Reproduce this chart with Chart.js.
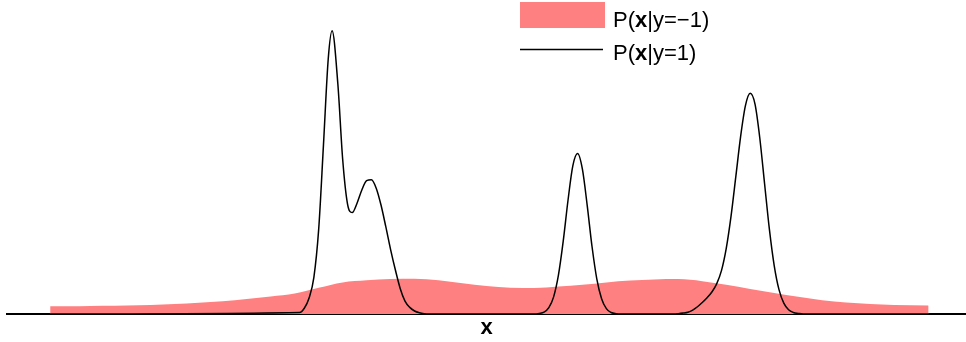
<!DOCTYPE html>
<html>
<head>
<meta charset="utf-8">
<script src="https://cdn.jsdelivr.net/npm/chart.js@4.4.1/dist/chart.umd.min.js"></script>
<style>
  html, body { margin: 0; padding: 0; background: #fff; }
  #wrap { width: 966px; height: 342px; }
</style>
</head>
<body>
<div id="wrap"><canvas id="densityChart" width="966" height="342"></canvas></div>
<script>
// Datos (eje x de -5 a 5, densidad de 0 a 1)
const negX = [-4.55, -4.25, -4.0, -3.75, -3.5, -3.25, -3.0, -2.75, -2.5, -2.25, -2.0, -1.75, -1.5, -1.25, -1.0, -0.75, -0.5, -0.25,
  0, 0.25, 0.5, 0.75, 1.0, 1.25, 1.5, 1.75, 2.0, 2.25, 2.5, 2.75, 3.0, 3.25, 3.5, 3.75, 4.0, 4.25, 4.61];
const negY = [0.026, 0.026, 0.027, 0.028, 0.030, 0.033, 0.037, 0.042, 0.050, 0.058, 0.068, 0.087, 0.105, 0.112, 0.116, 0.117, 0.112, 0.102,
  0.093, 0.087, 0.086, 0.091, 0.097, 0.105, 0.111, 0.115, 0.116, 0.109, 0.097, 0.083, 0.070, 0.057, 0.046, 0.038, 0.033, 0.030, 0.028];

const posX = [-4.55, -1.95, -1.90, -1.85, -1.80, -1.75, -1.70, -1.65, -1.61, -1.55, -1.50, -1.45, -1.40, -1.35, -1.30, -1.25, -1.20,
  -1.15, -1.10, -1.05, -1.00, -0.95, -0.90, -0.85, -0.80, -0.75, -0.70, -0.65, -0.60,
  0.50, 0.55, 0.60, 0.65, 0.70, 0.75, 0.80, 0.85, 0.90, 0.95, 1.00, 1.05, 1.10, 1.15, 1.20, 1.25, 1.30, 1.35, 1.40,
  1.95, 2.00, 2.05, 2.10, 2.15, 2.20, 2.25, 2.30, 2.35, 2.40, 2.45, 2.50, 2.55, 2.60, 2.65, 2.70, 2.75, 2.80, 2.85,
  2.90, 2.95, 3.00, 3.05, 3.10, 3.15, 3.20, 3.25, 3.30, 4.61];
const posY = [0, 0.005, 0.019, 0.053, 0.122, 0.281, 0.562, 0.849, 0.941, 0.764, 0.515, 0.367, 0.337, 0.368, 0.412, 0.443, 0.446,
  0.418, 0.362, 0.290, 0.214, 0.146, 0.085, 0.043, 0.022, 0.010, 0.004, 0.001, 0,
  0, 0.002, 0.006, 0.021, 0.057, 0.129, 0.242, 0.378, 0.492, 0.533, 0.481, 0.361, 0.225, 0.117, 0.051, 0.018, 0.005, 0.001, 0,
  0, 0.001, 0.003, 0.006, 0.013, 0.024, 0.038, 0.054, 0.073, 0.100, 0.144, 0.218, 0.325, 0.457, 0.590, 0.692, 0.733, 0.697, 0.584,
  0.432, 0.281, 0.161, 0.081, 0.036, 0.014, 0.005, 0.002, 0, 0];

const labels = ['P(x|y=−1)', 'P(x|y=1)'];
const axisTitle = 'x';

const FONT = "'Liberation Sans', Arial, Helvetica, sans-serif";
const RED = '#ff8080';

const toPoints = (xs, ys) => xs.map((x, i) => ({ x: x, y: ys[i] }));

// Dibuja la etiqueta con la "x" en negrita
function drawLabel(ctx, text, x, y) {
    const i = text.indexOf('x');
    const parts = [[text.slice(0, i), 'normal'], ['x', 'bold'], [text.slice(i + 1), 'normal']];
    ctx.textBaseline = 'alphabetic';
    ctx.textAlign = 'left';
    ctx.fillStyle = '#000';
    parts.forEach(([t, w]) => {
        ctx.font = w + ' 22px ' + FONT;
        ctx.fillText(t, x, y);
        x += ctx.measureText(t).width;
    });
}

const legendPlugin = {
    id: 'densityLegend',
    afterDraw(chart) {
        const ctx = chart.ctx;
        ctx.save();
        ctx.fillStyle = RED;
        ctx.fillRect(520, 2, 85, 26);
        ctx.strokeStyle = '#000';
        ctx.lineWidth = 1.5;
        ctx.beginPath();
        ctx.moveTo(520, 49.5);
        ctx.lineTo(603, 49.5);
        ctx.stroke();
        drawLabel(ctx, chart.data.datasets[1].label, 613, 27);
        drawLabel(ctx, chart.data.datasets[0].label, 613, 60);
        ctx.restore();
    }
};

const densityChart = new Chart(document.getElementById('densityChart'), {
    type: 'line',
    data: {
        datasets: [{
            label: labels[1],
            data: toPoints(posX, posY),
            borderColor: '#000',
            borderWidth: 1.5,
            pointRadius: 0,
            fill: false,
            cubicInterpolationMode: 'monotone'
        }, {
            label: labels[0],
            data: toPoints(negX, negY),
            borderWidth: 0,
            borderColor: 'rgba(0,0,0,0)',
            backgroundColor: RED,
            pointRadius: 0,
            fill: 'origin',
            cubicInterpolationMode: 'monotone'
        }]
    },
    options: {
        responsive: false,
        animation: false,
        devicePixelRatio: 1,
        events: [],
        layout: { padding: { left: 7, right: 0, top: 13, bottom: 0 } },
        plugins: {
            legend: { display: false },
            tooltip: { enabled: false }
        },
        scales: {
            x: {
                type: 'linear',
                min: -5,
                max: 5,
                z: 1,
                grid: { display: false, drawTicks: false, tickLength: 0 },
                border: { display: true, color: '#000', width: 2 },
                ticks: { display: false },
                title: {
                    display: true,
                    text: axisTitle,
                    color: '#000',
                    font: { family: FONT, size: 22, weight: 'bold', lineHeight: 1 },
                    padding: { top: 3, bottom: 3 }
                }
            },
            y: { display: false, min: 0, max: 1 }
        }
    },
    plugins: [legendPlugin]
});
</script>
</body>
</html>
